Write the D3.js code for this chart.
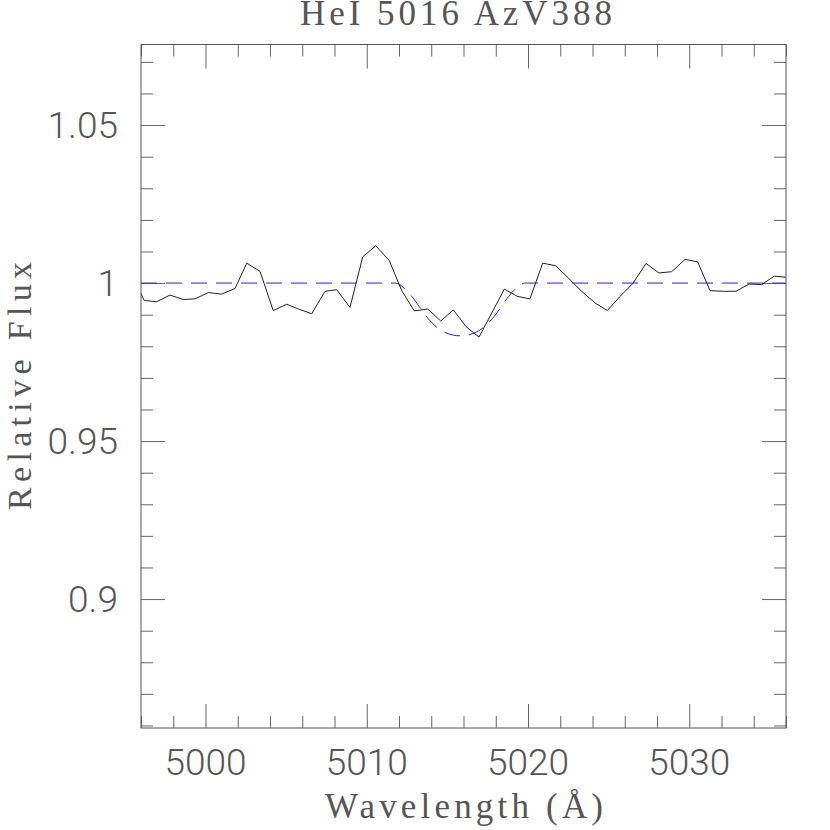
<!DOCTYPE html>
<html>
<head>
<meta charset="utf-8">
<script src="https://cdn.jsdelivr.net/npm/d3@7"></script>
<style>
  body { margin: 0; background: #fff; }
  svg { display: block; }
</style>
</head>
<body>
<div id="chart"></div>
<script>
var wave = [4995.40, 4996.20, 4996.97, 4997.80, 4998.62, 4999.35, 5000.17, 5001.00, 5001.83, 5002.56,
            5003.38, 5004.20, 5005.04, 5005.76, 5006.59, 5007.41, 5008.14, 5008.96, 5009.75, 5010.56,
            5011.40, 5012.17, 5012.95, 5013.78, 5014.59, 5015.37, 5016.16, 5016.96, 5017.75, 5018.53,
            5019.34, 5020.12, 5020.91, 5021.72, 5022.50, 5023.29, 5024.16, 5024.92, 5025.71, 5026.49,
            5027.32, 5028.12, 5028.91, 5029.74, 5030.52, 5031.29, 5032.11, 5032.90, 5033.71, 5034.49,
            5035.27, 5036.06];
var flux = [1.0030, 0.9945, 0.9941, 0.9962, 0.9948, 0.9950, 0.9970, 0.9965, 0.9983, 1.0063,
            1.0037, 0.9913, 0.9933, 0.9918, 0.9903, 0.9974, 0.9979, 0.9923, 1.0083, 1.0118,
            1.0071, 0.9976, 0.9912, 0.9918, 0.9880, 0.9915, 0.9862, 0.9829, 0.9905, 0.9981,
            0.9958, 0.9950, 1.0063, 1.0055, 1.0016, 0.9976, 0.9937, 0.9913, 0.9958, 0.9998,
            1.0062, 1.0032, 1.0036, 1.0075, 1.0067, 0.9976, 0.9974, 0.9974, 0.9997, 0.9995,
            1.0022, 1.0018];

// fitted line profile (blue dashed)
var fitWave = [4996.0, 5011.8, 5012.3, 5012.8, 5013.3, 5013.8, 5014.3, 5014.8, 5015.3, 5015.8,
               5016.3, 5016.8, 5017.3, 5017.8, 5018.3, 5018.8, 5019.3, 5019.8, 5036.0];
var fitFlux = [1.0, 1.0, 0.9985, 0.9958, 0.9922, 0.9888, 0.9862, 0.9845, 0.9836, 0.9833,
               0.9836, 0.9845, 0.9862, 0.9888, 0.9922, 0.9958, 0.9985, 1.0, 1.0];

var xMajor = [5000, 5010, 5020, 5030];
var yMajor = [0.9, 0.95, 1, 1.05];
var yLabels = ['0.9', '0.95', '1', '1.05'];

var title = 'HeI 5016 AzV388';
var xTitle = 'Wavelength (\u00C5)';
var yTitle = 'Relative Flux';

var W = 830, H = 830;
var margin = {top: 44.5, right: 44, bottom: 102, left: 141};
var width = W - margin.left - margin.right;
var height = H - margin.top - margin.bottom;

var svg = d3.select('#chart').append('svg')
  .attr('width', W)
  .attr('height', H);

var g = svg.append('g')
  .attr('transform', 'translate(' + margin.left + ',' + margin.top + ')');

var x = d3.scaleLinear().domain([4996, 5036]).range([0, width]);
var y = d3.scaleLinear().domain([0.8592, 1.0755]).range([height, 0]);

var xMinor = d3.range(4996, 5037, 2).filter(function(d) { return d % 10 !== 0; });
var yMinor = d3.range(86, 108, 1).map(function(d) { return d / 100; })
  .filter(function(d) { return yMajor.indexOf(d) < 0; });

var tickColor = '#666';

function drawAxis(axis, tr) {
  var a = g.append('g').attr('transform', tr).call(axis);
  a.select('.domain').remove();
  a.selectAll('line').attr('stroke', tickColor);
  a.selectAll('text').remove();
}

// ticks point inward on all four sides
drawAxis(d3.axisBottom(x).tickValues(xMajor).tickSize(-24), 'translate(0,' + height + ')');
drawAxis(d3.axisBottom(x).tickValues(xMinor).tickSize(-12), 'translate(0,' + height + ')');
drawAxis(d3.axisTop(x).tickValues(xMajor).tickSize(-24), 'translate(0,0)');
drawAxis(d3.axisTop(x).tickValues(xMinor).tickSize(-12), 'translate(0,0)');
drawAxis(d3.axisLeft(y).tickValues(yMajor).tickSize(-24), 'translate(0,0)');
drawAxis(d3.axisLeft(y).tickValues(yMinor).tickSize(-12), 'translate(0,0)');
drawAxis(d3.axisRight(y).tickValues(yMajor).tickSize(-24), 'translate(' + width + ',0)');
drawAxis(d3.axisRight(y).tickValues(yMinor).tickSize(-12), 'translate(' + width + ',0)');

// clip for the curves
g.append('clipPath').attr('id', 'clip')
  .append('rect').attr('width', width).attr('height', height);

var spec = wave.map(function(d, i) { return [d, flux[i]]; });
var fit = fitWave.map(function(d, i) { return [d, fitFlux[i]]; });

g.append('path')
  .datum(fit)
  .attr('clip-path', 'url(#clip)')
  .attr('fill', 'none')
  .attr('stroke', '#2424c8')
  .attr('stroke-width', 1)
  .attr('stroke-dasharray', '16,9')
  .attr('d', d3.line()
    .x(function(d) { return x(d[0]); })
    .y(function(d) { return y(d[1]); })
    .curve(d3.curveMonotoneX));

g.append('path')
  .datum(spec)
  .attr('clip-path', 'url(#clip)')
  .attr('fill', 'none')
  .attr('stroke', '#222')
  .attr('stroke-width', 1)
  .attr('d', d3.line()
    .x(function(d) { return x(d[0]); })
    .y(function(d) { return y(d[1]); }));

// frame
g.append('rect')
  .attr('width', width)
  .attr('height', height)
  .attr('fill', 'none')
  .attr('stroke', '#555')
  .attr('stroke-width', 1);

// tick labels
g.selectAll('.xlab')
  .data(xMajor)
  .enter().append('text')
    .attr('x', function(d) { return x(d); })
    .attr('y', height + 47)
    .attr('text-anchor', 'middle')
    .attr('font-family', 'Roboto, sans-serif')
    .attr('font-weight', 300)
    .attr('font-size', '37px')
    .attr('fill', '#555')
    .text(function(d) { return d; });

g.selectAll('.ylab')
  .data(yMajor)
  .enter().append('text')
    .attr('x', -23)
    .attr('y', function(d) { return y(d) + 13; })
    .attr('text-anchor', 'end')
    .attr('font-family', 'Roboto, sans-serif')
    .attr('font-weight', 300)
    .attr('font-size', '37px')
    .attr('fill', '#555')
    .text(function(d, i) { return yLabels[i]; });

// titles: serif glyphs stretched to the wide spacing of the original
var serif = '"Liberation Serif", "DejaVu Serif", serif';

svg.append('text')
  .attr('x', 300)
  .attr('y', 25)
  .attr('textLength', 312)
  .attr('lengthAdjust', 'spacing')
  .attr('font-family', serif)
  .attr('font-size', '35px')
  .attr('fill', '#555')
  .text(title);

svg.append('text')
  .attr('x', 325)
  .attr('y', 818)
  .attr('textLength', 278)
  .attr('lengthAdjust', 'spacing')
  .attr('font-family', serif)
  .attr('font-size', '35px')
  .attr('fill', '#555')
  .text(xTitle);

svg.append('text')
  .attr('transform', 'translate(31,510) rotate(-90)')
  .attr('textLength', 248)
  .attr('lengthAdjust', 'spacing')
  .attr('font-family', serif)
  .attr('font-size', '34px')
  .attr('fill', '#555')
  .text(yTitle);
</script>
</body>
</html>
